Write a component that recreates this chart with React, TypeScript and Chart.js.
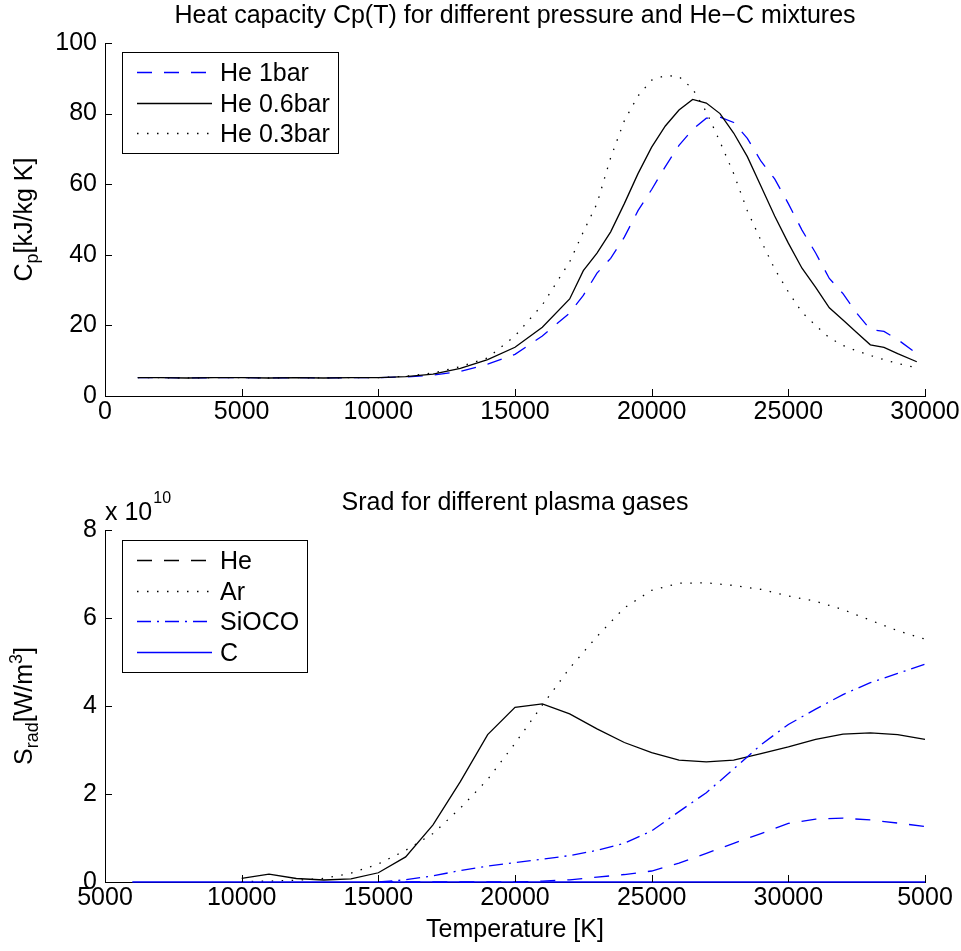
import React, { useEffect, useRef } from 'react';
import { Chart, registerables } from 'chart.js';

Chart.register(...registerables);

const FONT = '"Liberation Sans", Arial, Helvetica, sans-serif';
const FS = 25;

// ---------------- Top chart data ----------------
const cpTitle = 'Heat capacity Cp(T) for different pressure and He\u2212C mixtures';
const cpTemperature = [1200, 2000, 3000, 4000, 5000, 6000, 7000, 8000, 9000, 10000, 11000, 12000, 13000, 14000, 15000, 16000, 17000, 17500, 18000, 18500, 19000, 19500, 20000, 20500, 21000, 21500, 22000, 22500, 23000, 23500, 24000, 24500, 25000, 25500, 26000, 26500, 27000, 27500, 28000, 28500, 29000, 29700];
const cpHe1bar = [5.2, 5.2, 5.1, 5.2, 5.2, 5.1, 5.2, 5.1, 5.2, 5.2, 5.4, 5.9, 7.0, 9.0, 11.8, 17.0, 23.5, 28.5, 34.8, 39.0, 45.0, 52.5, 58.5, 65.0, 71.0, 75.5, 78.7, 79.0, 77.5, 73.0, 66.5, 61.5, 54.5, 47.0, 40.5, 33.3, 29.0, 23.5, 18.8, 18.3, 16.0, 12.0];
const cpHe06bar = [5.2, 5.2, 5.1, 5.2, 5.2, 5.1, 5.2, 5.1, 5.2, 5.2, 5.5, 6.2, 7.8, 10.3, 13.8, 19.5, 27.5, 35.5, 40.5, 46.5, 54.5, 63.0, 70.5, 76.5, 81.0, 84.0, 83.0, 80.0, 74.5, 67.8, 59.4, 51.0, 43.3, 36.2, 30.8, 25.0, 21.5, 18.0, 14.5, 13.8, 12.0, 9.7];
const cpHe03bar = [5.2, 5.2, 5.1, 5.2, 5.2, 5.1, 5.2, 5.1, 5.2, 5.2, 5.6, 6.5, 8.3, 10.8, 17.0, 25.8, 38.0, 46.5, 54.5, 67.5, 78.0, 85.0, 89.5, 90.8, 90.5, 87.0, 80.5, 72.0, 63.0, 52.5, 44.0, 36.0, 29.5, 23.7, 20.0, 16.5, 14.3, 12.8, 11.5, 10.3, 9.2, 8.0];
const cpXTicks = [0, 5000, 10000, 15000, 20000, 25000, 30000];
const cpXTickLabels = ['0', '5000', '10000', '15000', '20000', '25000', '30000'];
const cpYTicks = [0, 20, 40, 60, 80, 100];
const cpYTickLabels = ['0', '20', '40', '60', '80', '100'];
const cpLegendLabels = ['He 1bar', 'He 0.6bar', 'He 0.3bar'];

// ---------------- Bottom chart data (values in units of 10^10 W/m^3) ----------------
const sradTitle = 'Srad for different plasma gases';
const sradTempA = [10000, 11000, 12000, 13000, 14000, 15000, 16000, 17000, 18000, 19000, 20000, 21000, 22000, 23000, 24000, 25000, 26000, 27000, 28000, 29000, 30000, 31000, 32000, 33000, 34000, 35000];
const sradHe = [0.08, 0.18, 0.08, 0.045, 0.07, 0.21, 0.57, 1.3, 2.28, 3.35, 3.97, 4.05, 3.82, 3.48, 3.17, 2.94, 2.77, 2.73, 2.77, 2.92, 3.07, 3.24, 3.36, 3.39, 3.35, 3.24];
const sradAr = [0.01, 0.02, 0.04, 0.08, 0.2, 0.41, 0.72, 1.1, 1.68, 2.33, 3.15, 4.02, 4.86, 5.58, 6.23, 6.63, 6.79, 6.8, 6.74, 6.65, 6.5, 6.38, 6.19, 5.95, 5.71, 5.52];
const sradTempB = [15000, 16000, 17000, 18000, 19000, 20000, 21000, 22000, 23000, 24000, 25000, 26000, 27000, 28000, 29000, 30000, 31000, 32000, 33000, 34000, 35000];
const sradSiOCO = [0.0, 0.05, 0.14, 0.26, 0.36, 0.44, 0.52, 0.6, 0.72, 0.88, 1.16, 1.6, 2.03, 2.57, 3.12, 3.58, 3.93, 4.26, 4.53, 4.74, 4.95];
const sradOther = [0, 0, 0, 0, 0, 0, 0.02, 0.05, 0.11, 0.17, 0.25, 0.43, 0.65, 0.88, 1.1, 1.33, 1.43, 1.45, 1.41, 1.34, 1.26];
const sradTempC = [6000, 10000, 15000, 20000, 25000, 30000, 35000];
const sradC = [0, 0, 0, 0, 0, 0, 0];
const sradXTicks = [5000, 10000, 15000, 20000, 25000, 30000, 35000];
const sradXTickLabels = ['5000', '10000', '15000', '20000', '25000', '30000', '5000'];
const sradYTicks = [0, 2, 4, 6, 8];
const sradYTickLabels = ['0', '2', '4', '6', '8'];
const sradLegendLabels = ['He', 'Ar', 'SiOCO', 'C'];
const sradXLabel = 'Temperature [K]';

// ---------------- Styles ----------------
const BLUE = '#0000ff';
const BLACK = '#000000';
const DASHED = [15, 12];
const DOTTED = [1.5, 8.5];
const DASHDOT = [14, 6, 2, 6];
const LW = 1.3;

type Seg = { t: string; k?: 'sub' | 'sup' };
type LegendStyle = { color: string; dash: number[] };

interface Decor {
  title: string;
  titleY: number;
  yLabel: Seg[];
  yLabelX: number;
  legendLabels: string[];
  legendStyles: LegendStyle[];
  legendTop: number;
  multiplier?: { base: string; exp: string; y: number };
}

function drawRich(ctx: CanvasRenderingContext2D, segs: Seg[], cx: number, y: number) {
  const small = 18;
  const widths = segs.map((s) => {
    ctx.font = `${s.k ? small : FS}px ${FONT}`;
    return ctx.measureText(s.t).width;
  });
  const total = widths.reduce((a, b) => a + b, 0);
  let x = cx - total / 2;
  ctx.textAlign = 'left';
  ctx.textBaseline = 'alphabetic';
  segs.forEach((s, i) => {
    ctx.font = `${s.k ? small : FS}px ${FONT}`;
    const dy = s.k === 'sub' ? 6 : s.k === 'sup' ? -10 : 0;
    ctx.fillText(s.t, x, y + dy);
    x += widths[i];
  });
}

function makeDecor(d: Decor) {
  return {
    id: 'matlabDecor',
    afterDraw(chart: any) {
      const ctx: CanvasRenderingContext2D = chart.ctx;
      const ca = chart.chartArea;
      const xs = chart.scales.x;
      const ys = chart.scales.y;
      ctx.save();
      ctx.setLineDash([]);
      ctx.strokeStyle = BLACK;
      ctx.lineWidth = 1;
      // inward tick marks
      xs.ticks.forEach((t: any) => {
        const px = Math.round(xs.getPixelForValue(t.value)) + 0.5;
        ctx.beginPath();
        ctx.moveTo(px, ca.bottom);
        ctx.lineTo(px, ca.bottom - 7);
        ctx.stroke();
      });
      ys.ticks.forEach((t: any) => {
        const py = Math.round(ys.getPixelForValue(t.value)) + 0.5;
        ctx.beginPath();
        ctx.moveTo(ca.left, py);
        ctx.lineTo(ca.left + 7, py);
        ctx.stroke();
      });
      // title
      ctx.fillStyle = BLACK;
      ctx.font = `${FS}px ${FONT}`;
      ctx.textAlign = 'center';
      ctx.textBaseline = 'alphabetic';
      ctx.fillText(d.title, (ca.left + ca.right) / 2, d.titleY);
      // y label (rotated, with sub/superscripts)
      ctx.save();
      ctx.translate(d.yLabelX, (ca.top + ca.bottom) / 2);
      ctx.rotate(-Math.PI / 2);
      drawRich(ctx, d.yLabel, 0, 0);
      ctx.restore();
      // multiplier
      if (d.multiplier) {
        ctx.font = `${FS}px ${FONT}`;
        ctx.textAlign = 'left';
        ctx.textBaseline = 'alphabetic';
        ctx.fillText(d.multiplier.base, ca.left, d.multiplier.y);
        const w = ctx.measureText(d.multiplier.base).width;
        ctx.font = `16px ${FONT}`;
        ctx.fillText(d.multiplier.exp, ca.left + w + 1, d.multiplier.y - 17);
      }
      // legend
      ctx.font = `${FS}px ${FONT}`;
      const maxW = Math.max(...d.legendLabels.map((l) => ctx.measureText(l).width));
      const boxL = ca.left + 17;
      const lineL = boxL + 15;
      const lineR = boxL + 90;
      const textX = boxL + 98;
      const rowGap = 30.5;
      const boxT = d.legendTop;
      const boxB = boxT + 20 + (d.legendLabels.length - 1) * rowGap + 20;
      const boxR = textX + maxW + 8;
      ctx.fillStyle = '#ffffff';
      ctx.fillRect(Math.round(boxL), Math.round(boxT), Math.round(boxR - boxL), Math.round(boxB - boxT));
      ctx.strokeStyle = BLACK;
      ctx.lineWidth = 1;
      ctx.setLineDash([]);
      ctx.strokeRect(Math.round(boxL) + 0.5, Math.round(boxT) + 0.5, Math.round(boxR - boxL), Math.round(boxB - boxT));
      d.legendLabels.forEach((label, i) => {
        const cy = boxT + 20 + i * rowGap;
        const st = d.legendStyles[i];
        ctx.strokeStyle = st.color;
        ctx.lineWidth = LW;
        ctx.setLineDash(st.dash);
        ctx.beginPath();
        ctx.moveTo(lineL, Math.round(cy) + 0.5);
        ctx.lineTo(lineR, Math.round(cy) + 0.5);
        ctx.stroke();
        ctx.setLineDash([]);
        ctx.fillStyle = BLACK;
        ctx.textAlign = 'left';
        ctx.textBaseline = 'alphabetic';
        ctx.fillText(label, textX, cy + 9);
      });
      ctx.restore();
    },
  };
}

function lineDs(label: string, xs: number[], ys: number[], color: string, dash: number[], order: number) {
  return {
    label,
    data: xs.map((x, i) => ({ x, y: ys[i] })),
    borderColor: color,
    backgroundColor: color,
    borderWidth: LW,
    borderDash: dash,
    pointRadius: 0,
    pointHoverRadius: 0,
    tension: 0,
    fill: false,
    clip: false as any,
    order,
  };
}

function scaleBase(
  min: number,
  max: number,
  ticks: number[],
  labels: string[],
  padding: number,
  fit: (s: any) => void
) {
  return {
    type: 'linear' as const,
    min,
    max,
    afterBuildTicks: (s: any) => {
      s.ticks = ticks.map((v) => ({ value: v }));
    },
    afterFit: fit,
    grid: { display: true, drawOnChartArea: false, drawTicks: false },
    border: { display: true, color: BLACK, width: 1 },
    ticks: {
      color: BLACK,
      font: { family: FONT, size: FS },
      padding,
      autoSkip: false,
      maxRotation: 0,
      minRotation: 0,
      callback: (_v: any, i: number) => labels[i],
    },
  };
}

function topConfig(): any {
  return {
    type: 'line',
    data: {
      datasets: [
        lineDs(cpLegendLabels[0], cpTemperature, cpHe1bar, BLUE, DASHED, 0),
        lineDs(cpLegendLabels[1], cpTemperature, cpHe06bar, BLACK, [], -1),
        lineDs(cpLegendLabels[2], cpTemperature, cpHe03bar, BLACK, DOTTED, -2),
      ],
    },
    options: {
      responsive: false,
      animation: false,
      devicePixelRatio: 1,
      events: [],
      layout: { padding: { left: 0, right: 36, top: 43, bottom: 0 } },
      plugins: { legend: { display: false }, title: { display: false }, tooltip: { enabled: false } },
      scales: {
        x: scaleBase(0, 30000, cpXTicks, cpXTickLabels, 1, (s: any) => { s.height = 74; }),
        y: scaleBase(0, 100, cpYTicks, cpYTickLabels, 8, (s: any) => { s.width = 105; }),
      },
    },
    plugins: [
      makeDecor({
        title: cpTitle,
        titleY: 23,
        yLabel: [{ t: 'C' }, { t: 'p', k: 'sub' }, { t: '[kJ/kg K]' }],
        yLabelX: 32,
        legendLabels: cpLegendLabels,
        legendStyles: [
          { color: BLUE, dash: DASHED },
          { color: BLACK, dash: [] },
          { color: BLACK, dash: DOTTED },
        ],
        legendTop: 52,
      }),
    ],
  };
}

function bottomConfig(): any {
  const x = scaleBase(5000, 35000, sradXTicks, sradXTickLabels, 1, (s: any) => { s.height = 69; });
  (x as any).title = {
    display: true,
    text: sradXLabel,
    color: BLACK,
    font: { family: FONT, size: FS },
    padding: { top: 0, bottom: 6 },
  };
  return {
    type: 'line',
    data: {
      datasets: [
        lineDs('He', sradTempA, sradHe, BLACK, [], 0),
        lineDs('Ar', sradTempA, sradAr, BLACK, DOTTED, -1),
        lineDs('SiOCO', sradTempB, sradSiOCO, BLUE, DASHDOT, -2),
        lineDs('other', sradTempB, sradOther, BLUE, DASHED, -3),
        lineDs('C', sradTempC, sradC, BLUE, [], -4),
      ],
    },
    options: {
      responsive: false,
      animation: false,
      devicePixelRatio: 1,
      events: [],
      layout: { padding: { left: 0, right: 36, top: 60, bottom: 0 } },
      plugins: { legend: { display: false }, title: { display: false }, tooltip: { enabled: false } },
      scales: {
        x,
        y: scaleBase(0, 8, sradYTicks, sradYTickLabels, 8, (s: any) => { s.width = 105; }),
      },
    },
    plugins: [
      makeDecor({
        title: sradTitle,
        titleY: 40,
        yLabel: [{ t: 'S' }, { t: 'rad', k: 'sub' }, { t: '[W/m' }, { t: '3', k: 'sup' }, { t: ']' }],
        yLabelX: 32,
        legendLabels: sradLegendLabels,
        legendStyles: [
          { color: BLACK, dash: DASHED },
          { color: BLACK, dash: DOTTED },
          { color: BLUE, dash: DASHDOT },
          { color: BLUE, dash: [] },
        ],
        legendTop: 70,
        multiplier: { base: 'x 10', exp: '10', y: 50 },
      }),
    ],
  };
}

function ChartCanvas(props: { make: () => any; top: number; width: number; height: number }) {
  const ref = useRef<HTMLCanvasElement | null>(null);
  useEffect(() => {
    if (!ref.current) return;
    const chart = new Chart(ref.current, props.make());
    return () => chart.destroy();
  }, []);
  return (
    <canvas
      ref={ref}
      width={props.width}
      height={props.height}
      style={{ position: 'absolute', left: 0, top: props.top, width: props.width, height: props.height, display: 'block' }}
    />
  );
}

export default function App() {
  Chart.defaults.font.family = FONT;
  Chart.defaults.color = BLACK;
  return (
    <div style={{ position: 'absolute', left: 0, top: 0, width: 961, height: 951, background: '#ffffff' }}>
      <ChartCanvas make={topConfig} top={0} width={961} height={470} />
      <ChartCanvas make={bottomConfig} top={470} width={961} height={481} />
    </div>
  );
}
